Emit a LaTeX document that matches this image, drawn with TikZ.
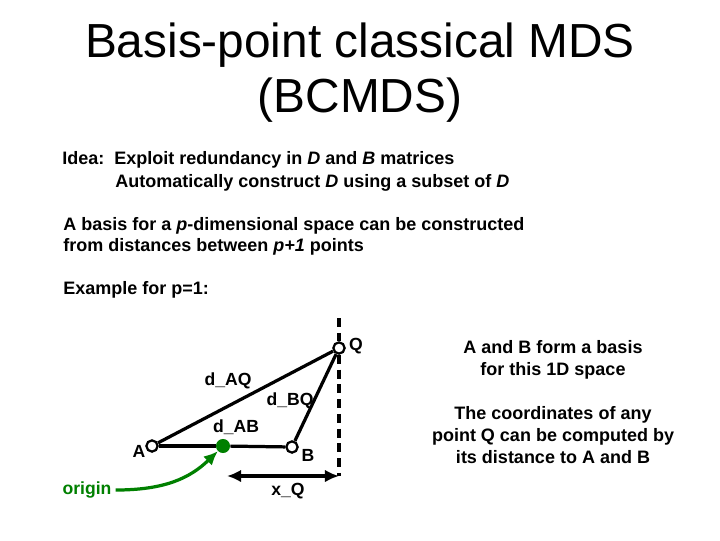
\documentclass[tikz,border=0pt]{standalone}
\usepackage{fontspec}
\setmainfont{Liberation Sans}
\usetikzlibrary{arrows.meta,positioning}

\begin{document}
\begin{tikzpicture}[
  x=0.025cm, y=-0.025cm,
  title/.style={font=\fontsize{34}{39}\selectfont, align=center},
  txt/.style={font=\fontsize{12.8}{15}\selectfont\bfseries, anchor=west, inner sep=0pt},
  note/.style={font=\fontsize{12.8}{15.4}\selectfont\bfseries, align=center, inner sep=0pt},
  lbl/.style={font=\fontsize{12.5}{14}\selectfont\bfseries, inner sep=0pt},
  pnt/.style={circle, draw, line width=1.6pt, fill=white, minimum size=8pt, inner sep=0pt},
  gdot/.style={circle, fill=green!50!black, minimum size=10pt, inner sep=0pt},
  edge/.style={line width=2.3pt},
  arr/.style={{Latex[length=10pt,width=9pt]}-{Latex[length=10pt,width=9pt]}, line width=2.3pt},
  garr/.style={-{Latex[length=10pt,width=9pt]}, line width=2.3pt, green!50!black}
]
\useasboundingbox (0,0) rectangle (720,540);

% --- Title ---
\node[title] (ttl) at (360,73) {Basis-point classical MDS\\(BCMDS)};

% --- Text ---
\node[txt] (idea1) at (62,160) {Idea:\ \ Exploit redundancy in \textit{D} and \textit{B} matrices};
\node[txt] (idea2) at (115,183) {Automatically construct \textit{D} using a subset of \textit{D}};
\node[txt, align=left] (basis) at (63,236) {A basis for a \textit{p}-dimensional space can be constructed\\from distances between \textit{p+1} points};
\node[txt] (expl) at (63,290) {Example for p=1:};

% --- Points ---
\node[pnt] (A) at (152,446) {};
\node[pnt] (B) at (292,447) {};
\node[pnt] (Q) at (339,348) {};
\node[gdot] (O) at (223,446) {};
\coordinate (qtop) at (339,318);
\coordinate (qbot) at (339,476);
\coordinate (xl) at (227,476);

\draw[edge] (A) -- (Q);
\draw[edge] (B) -- (Q);
\draw[edge] (A) -- (O);
\draw[edge] (O) -- (B);
\draw[edge, dash pattern=on 6.5pt off 4pt] (qtop) -- (Q.north);
\draw[edge, dash pattern=on 6.5pt off 4pt] (Q.south) -- (qbot);
\draw[arr] (xl) -- (qbot);

% --- Labels ---
\node[lbl] (lq) at (356,346) {Q};
\node[lbl] (la) at (139,451) {A};
\node[lbl] (lb) at (308,455) {B};
\node[lbl] (daq) at (228,381) {d\_AQ};
\node[lbl] (dbq) at (290,401) {d\_BQ};
\node[lbl] (dab) at (236,427) {d\_AB};
\node[lbl] (xq) at (288,491) {x\_Q};
\node[lbl, text=green!50!black] (orig) at (87,490) {origin};

\draw[garr] (orig.east) ++(4,0) .. controls (165,490) and (190,478) .. (O.south west);

% --- Notes ---
\node[note] (n1) at (553,360) {A and B form a basis\\for this 1D space};
\node[note] (n2) at (553,435) {The coordinates of any\\point Q can be computed by\\its distance to A and B};

\end{tikzpicture}
\end{document}
